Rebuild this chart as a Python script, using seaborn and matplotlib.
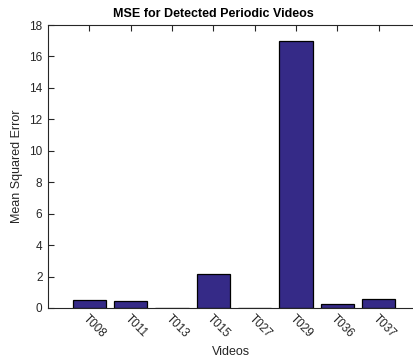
import matplotlib
matplotlib.use("Agg")
import matplotlib.pyplot as plt
import seaborn as sns
import pandas as pd

videos = ["T008", "T011", "T013", "T015", "T027", "T029", "T036", "T037"]
mse = [0.53, 0.45, 0.02, 2.15, 0.02, 17.0, 0.24, 0.60]

sns.set_style("white")
plt.rcParams["font.family"] = ["Liberation Sans", "DejaVu Sans"]

df = pd.DataFrame({"video": videos, "mse": mse})

fig = plt.figure(figsize=(4.14, 3.59), dpi=100)
W, H = 414, 359
ax = fig.add_axes([48 / W, (H - 308) / H, (420 - 48) / W, (308 - 25) / H])

sns.barplot(data=df, x="video", y="mse", color="#352a87", saturation=1,
            width=0.8, edgecolor="black", linewidth=0.9, ax=ax)

ax.set_xlim(-1, 8)
ax.set_ylim(0, 18)
ax.set_yticks(range(0, 19, 2))

axis_col = "#262626"
for side in ["left", "bottom", "top"]:
    ax.spines[side].set_visible(True)
    ax.spines[side].set_color(axis_col)
    ax.spines[side].set_linewidth(0.8)
ax.spines["right"].set_visible(False)

ax.tick_params(axis="both", direction="in", length=4, width=0.8,
               color=axis_col, labelcolor=axis_col, labelsize=8.5)
ax.tick_params(axis="x", top=True, pad=3)
ax.tick_params(axis="y", left=True, right=False, pad=4)

for lab in ax.get_xticklabels():
    lab.set_rotation(-45)
    lab.set_ha("left")
    lab.set_va("top")
    lab.set_rotation_mode("anchor")

ax.set_xlabel("Videos", fontsize=9, color=axis_col)
ax.xaxis.set_label_coords((231 - 48) / 372, (308 - 352) / 283)
ax.xaxis.label.set_va("center")
ax.set_ylabel("Mean Squared Error", fontsize=9, color=axis_col)
ax.yaxis.set_label_coords((17 - 48) / 372, 0.5)
ax.yaxis.label.set_va("center")
fig.text(213 / W, 1 - 14 / H, "MSE for Detected Periodic Videos",
         ha="center", va="center", fontsize=9, fontweight="bold", color="black")

fig.savefig("out.png", dpi=100)
